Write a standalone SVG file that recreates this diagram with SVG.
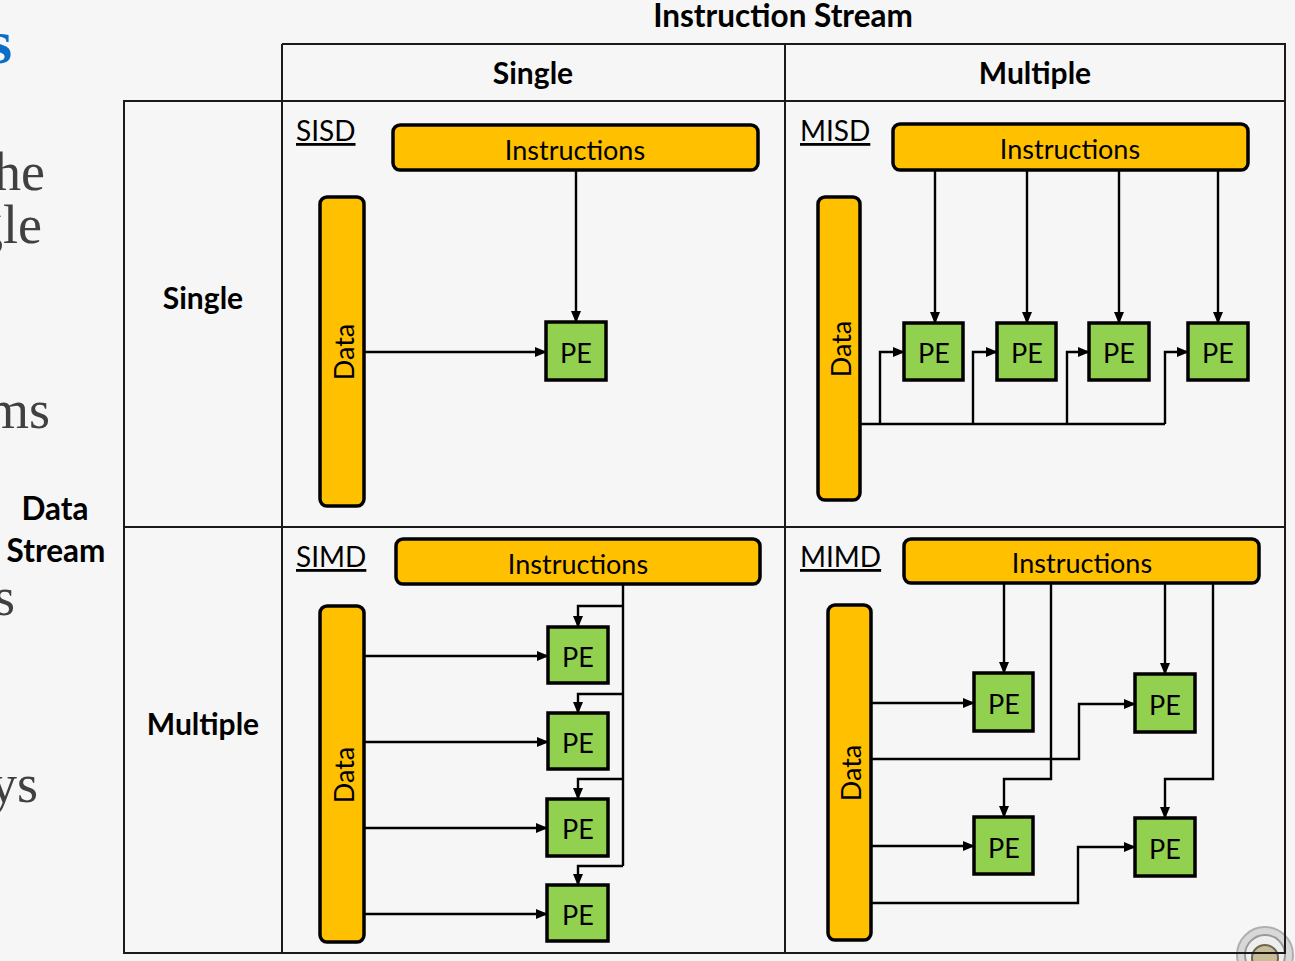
<svg xmlns="http://www.w3.org/2000/svg" width="1295" height="961" viewBox="0 0 1295 961">
<defs>
<marker id="ah" markerWidth="12" markerHeight="10" refX="11" refY="5" orient="auto" markerUnits="userSpaceOnUse">
<path d="M0,0 L12,5 L0,10 z" fill="#000"/>
</marker>
<style>
.grid{stroke:#1a1a1a;stroke-width:2;fill:none}
.hd{font-family:Lato,"Liberation Sans",sans-serif;font-weight:bold;font-size:30px;fill:#000;text-anchor:middle}
.big{font-size:31.5px}
.lab{font-family:Lato,"Liberation Sans",sans-serif;font-size:28px;fill:#000;text-decoration:underline}
.ins{fill:#FFC000;stroke:#000;stroke-width:3.5}
.pe{fill:#92D050;stroke:#000;stroke-width:3.5}
.t{font-family:Lato,"Liberation Sans",sans-serif;font-size:27px;fill:#000;text-anchor:middle;dominant-baseline:central}
.c{stroke:#000;stroke-width:2.4;fill:none}
.ca{stroke:#000;stroke-width:2.4;fill:none;marker-end:url(#ah)}
.bg{font-family:"Liberation Serif",serif;font-size:54px;fill:#404040}
</style>
</defs>
<rect width="1295" height="961" fill="#f6f6f6"/>
<g id="background-text">
<text x="-12" y="63" font-family="Liberation Serif,serif" font-weight="bold" font-size="62" fill="#0a6ec8">s</text>
<text class="bg" x="-6" y="190">he</text>
<text class="bg" x="-24" y="243">gle</text>
<text class="bg" x="-13" y="428">ms</text>
<text class="bg" x="-6" y="615">s</text>
<text class="bg" x="-10" y="802">ys</text>
</g>
<g id="corner-button">
<circle cx="1265" cy="955" r="28" fill="#d8d8d8" stroke="#b0b0b0" stroke-width="2"/>
<circle cx="1265" cy="955" r="20" fill="#eeeeee" stroke="#9a9a9a" stroke-width="2"/>
<circle cx="1265" cy="958" r="13" fill="#c9bd98" stroke="#6d6650" stroke-width="2"/>
</g>
<g id="grid">
<path class="grid" d="M282,44 H1285 V953 H124 V101 H1285 M282,44 V953 M785,44 V953 M124,527 H1285"/>
</g>
<g id="headers">
<text class="hd big" x="783" y="27">Instruction Stream</text>
<text class="hd" x="533" y="84">Single</text>
<text class="hd" x="1035" y="84">Multiple</text>
<text class="hd" x="203" y="309">Single</text>
<text class="hd" x="203" y="735">Multiple</text>
<text class="hd big" x="55" y="520">Data</text>
<text class="hd big" x="56" y="562">Stream</text>
</g>
<g id="connectors">
<path class="ca" d="M576,170 V322"/>
<path class="ca" d="M364,352 H546"/>
<path class="ca" d="M935,170 V323"/>
<path class="ca" d="M1027,170 V323"/>
<path class="ca" d="M1119,170 V323"/>
<path class="ca" d="M1218,170 V323"/>
<path class="c" d="M860,424 H1165"/>
<path class="ca" d="M880,424 V352 H904"/>
<path class="ca" d="M973,424 V352 H997"/>
<path class="ca" d="M1067,424 V352 H1089"/>
<path class="ca" d="M1165,424 V352 H1188"/>
<path class="c" d="M623,584 V866"/>
<path class="ca" d="M623,606 H578 V627"/>
<path class="ca" d="M623,694 H578 V713"/>
<path class="ca" d="M623,779 H578 V799"/>
<path class="ca" d="M623,866 H578 V885"/>
<path class="ca" d="M364,656 H548"/>
<path class="ca" d="M364,742 H548"/>
<path class="ca" d="M364,828 H547"/>
<path class="ca" d="M364,914 H547"/>
<path class="ca" d="M1004,583 V673"/>
<path class="ca" d="M1051,583 V779 H1004 V817"/>
<path class="ca" d="M1165,583 V674"/>
<path class="ca" d="M1213,583 V779 H1165 V818"/>
<path class="ca" d="M871,703 H974"/>
<path class="ca" d="M871,759 H1079 V704 H1135"/>
<path class="ca" d="M871,846 H974"/>
<path class="ca" d="M871,903 H1078 V847 H1135"/>
</g>
<g id="sisd">
<text class="lab" x="296" y="141">SISD</text>
<g id="sisd-instructions"><rect class="ins" x="393" y="125" width="365" height="45" rx="7"/><text class="t" x="575" y="149">Instructions</text></g>
<g id="sisd-data"><rect class="ins" x="320" y="197" width="44" height="309" rx="7"/><text class="t" transform="translate(343,352) rotate(-90)">Data</text></g>
<g id="sisd-pe"><rect class="pe" x="546" y="322" width="60" height="58"/><text class="t" x="576" y="352">PE</text></g>
</g>
<g id="misd">
<text class="lab" x="800" y="141">MISD</text>
<g id="misd-instructions"><rect class="ins" x="893" y="124" width="355" height="46" rx="7"/><text class="t" x="1070" y="148">Instructions</text></g>
<g id="misd-data"><rect class="ins" x="818" y="197" width="42" height="303" rx="7"/><text class="t" transform="translate(840,349) rotate(-90)">Data</text></g>
<g id="misd-pe1"><rect class="pe" x="904" y="323" width="59" height="57"/><text class="t" x="934" y="352">PE</text></g>
<g id="misd-pe2"><rect class="pe" x="997" y="323" width="59" height="57"/><text class="t" x="1027" y="352">PE</text></g>
<g id="misd-pe3"><rect class="pe" x="1089" y="323" width="60" height="57"/><text class="t" x="1119" y="352">PE</text></g>
<g id="misd-pe4"><rect class="pe" x="1188" y="323" width="60" height="57"/><text class="t" x="1218" y="352">PE</text></g>
</g>
<g id="simd">
<text class="lab" x="296" y="567">SIMD</text>
<g id="simd-instructions"><rect class="ins" x="396" y="539" width="364" height="45" rx="7"/><text class="t" x="578" y="563">Instructions</text></g>
<g id="simd-data"><rect class="ins" x="320" y="606" width="44" height="336" rx="7"/><text class="t" transform="translate(343,775) rotate(-90)">Data</text></g>
<g id="simd-pe1"><rect class="pe" x="548" y="627" width="60" height="56"/><text class="t" x="578" y="656">PE</text></g>
<g id="simd-pe2"><rect class="pe" x="548" y="713" width="60" height="56"/><text class="t" x="578" y="742">PE</text></g>
<g id="simd-pe3"><rect class="pe" x="547" y="799" width="61" height="57"/><text class="t" x="578" y="828">PE</text></g>
<g id="simd-pe4"><rect class="pe" x="547" y="885" width="61" height="56"/><text class="t" x="578" y="914">PE</text></g>
</g>
<g id="mimd">
<text class="lab" x="800" y="567">MIMD</text>
<g id="mimd-instructions"><rect class="ins" x="904" y="539" width="355" height="44" rx="7"/><text class="t" x="1082" y="562">Instructions</text></g>
<g id="mimd-data"><rect class="ins" x="828" y="605" width="43" height="335" rx="7"/><text class="t" transform="translate(850,773) rotate(-90)">Data</text></g>
<g id="mimd-pe1"><rect class="pe" x="974" y="673" width="59" height="58"/><text class="t" x="1004" y="703">PE</text></g>
<g id="mimd-pe2"><rect class="pe" x="1135" y="674" width="60" height="58"/><text class="t" x="1165" y="704">PE</text></g>
<g id="mimd-pe3"><rect class="pe" x="974" y="817" width="59" height="57"/><text class="t" x="1004" y="847">PE</text></g>
<g id="mimd-pe4"><rect class="pe" x="1135" y="818" width="60" height="58"/><text class="t" x="1165" y="848">PE</text></g>
</g>
</svg>
